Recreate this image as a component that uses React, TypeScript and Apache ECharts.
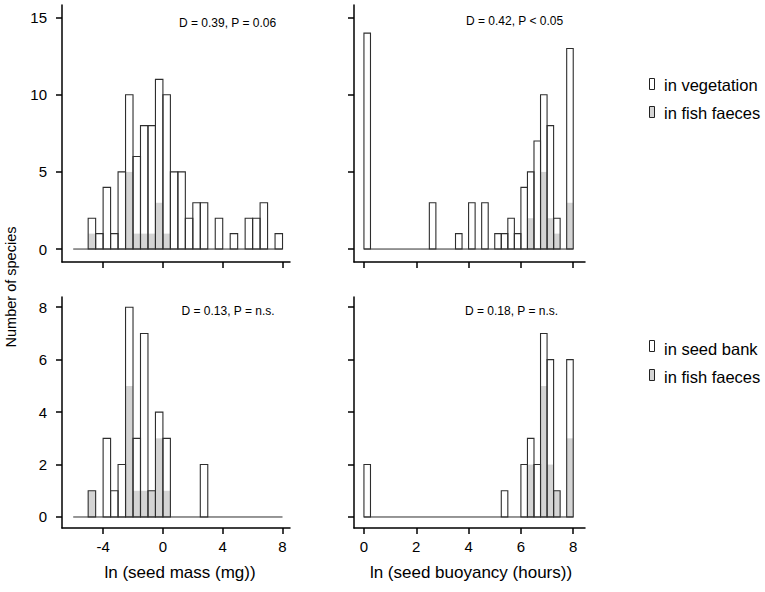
import React, { useEffect, useRef } from "react";
import * as echarts from "echarts";

// ---- data ----
const massBins = [-5, -4.5, -4, -3.5, -3, -2.5, -2, -1.5, -1, -0.5, 0, 0.5, 1, 1.5, 2, 2.5, 3, 3.5, 4, 4.5, 5, 5.5, 6, 6.5, 7, 7.5];
const massBinWidth = 0.5;
const massVegetation = [2, 1, 4, 1, 5, 10, 6, 8, 8, 11, 10, 5, 5, 2, 3, 3, 0, 2, 0, 1, 0, 2, 2, 3, 0, 1];
const massFaecesTop = [1, 0, 0, 0, 0, 5, 1, 1, 1, 3, 1, 0, 0, 0, 0, 0, 0, 0, 0, 0, 0, 0, 0, 0, 0, 0];
const massSeedBank = [1, 0, 3, 1, 2, 8, 3, 7, 1, 4, 3, 0, 0, 0, 0, 2, 0, 0, 0, 0, 0, 0, 0, 0, 0, 0];
const massFaecesBottom = [1, 0, 0, 0, 0, 5, 1, 1, 1, 3, 1, 0, 0, 0, 0, 0, 0, 0, 0, 0, 0, 0, 0, 0, 0, 0];

const buoyBins = [0, 0.25, 0.5, 0.75, 1, 1.25, 1.5, 1.75, 2, 2.25, 2.5, 2.75, 3, 3.25, 3.5, 3.75, 4, 4.25, 4.5, 4.75, 5, 5.25, 5.5, 5.75, 6, 6.25, 6.5, 6.75, 7, 7.25, 7.5, 7.75];
const buoyBinWidth = 0.25;
const buoyVegetation = [14, 0, 0, 0, 0, 0, 0, 0, 0, 0, 3, 0, 0, 0, 1, 0, 3, 0, 3, 0, 1, 1, 2, 1, 4, 5, 7, 10, 8, 2, 0, 13];
const buoyFaecesTop = [0, 0, 0, 0, 0, 0, 0, 0, 0, 0, 0, 0, 0, 0, 0, 0, 0, 0, 0, 0, 0, 0, 0, 0, 0, 2, 0, 5, 2, 1, 0, 3];
const buoySeedBank = [2, 0, 0, 0, 0, 0, 0, 0, 0, 0, 0, 0, 0, 0, 0, 0, 0, 0, 0, 0, 0, 1, 0, 0, 2, 3, 2, 7, 6, 1, 0, 6];
const buoyFaecesBottom = [0, 0, 0, 0, 0, 0, 0, 0, 0, 0, 0, 0, 0, 0, 0, 0, 0, 0, 0, 0, 0, 0, 0, 0, 0, 2, 0, 5, 2, 1, 0, 3];

const massBaseline = [-6, 8];
const buoyBaseline = [0, 8];

const massTicks = [-4, 0, 4, 8];
const buoyTicks = [0, 2, 4, 6, 8];
const topCountTicks = [0, 5, 10, 15];
const bottomCountTicks = [0, 2, 4, 6, 8];

const statsLabels = ["D = 0.39, P = 0.06", "D = 0.42, P < 0.05", "D = 0.13, P = n.s.", "D = 0.18, P = n.s."];
const xTitles = ["ln (seed mass (mg))", "ln (seed buoyancy (hours))"];
const yTitle = "Number of species";
const legendTop = ["in vegetation", "in fish faeces"];
const legendBottom = ["in seed bank", "in fish faeces"];

// ---- style ----
const FONT = "'Liberation Sans', Arial, Helvetica, sans-serif";
const GRAY = "#d4d4d4";
const OUTLINE = "#2e2e2e";

function histSeries(idx: number, bins: number[], counts: number[], width: number, kind: "outline" | "fill", name: string) {
  return {
    type: "custom",
    name,
    xAxisIndex: idx,
    yAxisIndex: idx,
    z: kind === "fill" ? 2 : 3,
    data: bins.map((b, i) => [b, counts[i]]),
    renderItem: (params: any, api: any) => {
      const x0 = api.value(0);
      const h = api.value(1);
      if (!h) return null;
      const p0 = api.coord([x0, 0]);
      const p1 = api.coord([x0 + width, h]);
      return {
        type: "rect",
        shape: { x: p0[0], y: p1[1], width: p1[0] - p0[0], height: p0[1] - p1[1] },
        style:
          kind === "fill"
            ? { fill: GRAY, stroke: null }
            : { fill: "none", stroke: OUTLINE, lineWidth: 1.1 },
      };
    },
  };
}

function baselineSeries(idx: number, range: number[]) {
  return {
    type: "line",
    xAxisIndex: idx,
    yAxisIndex: idx,
    z: 3,
    symbol: "none",
    silent: true,
    lineStyle: { color: OUTLINE, width: 1 },
    data: [
      [range[0], 0],
      [range[1], 0],
    ],
  };
}

function xAxis(idx: number, min: number, max: number, ticks: number[], showLabels: boolean) {
  return {
    type: "value",
    gridIndex: idx,
    min,
    max,
    splitLine: { show: false },
    axisLine: { show: true, onZero: false, lineStyle: { color: "#000", width: 1.5 } },
    axisTick: { show: true, length: 6, customValues: ticks, lineStyle: { color: "#000", width: 1.5 } },
    axisLabel: {
      show: showLabels,
      customValues: ticks,
      margin: 11,
      color: "#000",
      fontSize: 15,
      fontFamily: FONT,
    },
  };
}

function yAxis(idx: number, min: number, max: number, ticks: number[], showLabels: boolean) {
  return {
    type: "value",
    gridIndex: idx,
    min,
    max,
    splitLine: { show: false },
    axisLine: { show: true, onZero: false, lineStyle: { color: "#000", width: 1.5 } },
    axisTick: { show: true, length: 6, customValues: ticks, lineStyle: { color: "#000", width: 1.5 } },
    axisLabel: {
      show: showLabels,
      customValues: ticks,
      margin: 15,
      color: "#000",
      fontSize: 15,
      fontFamily: FONT,
    },
  };
}

function textEl(text: string, x: number, y: number, size: number, align = "left", rotation = 0) {
  return {
    type: "text",
    x,
    y,
    rotation,
    style: { text, fill: "#000", font: `${size}px ${FONT}`, align, verticalAlign: "middle" },
  };
}

function legendBox(x: number, y: number, fill: string) {
  return {
    type: "rect",
    shape: { x, y, width: 5, height: 11 },
    style: { fill, stroke: "#222", lineWidth: 1 },
  };
}

export default function App() {
  const ref = useRef<HTMLDivElement>(null);

  useEffect(() => {
    if (!ref.current) return;
    const chart = echarts.init(ref.current, undefined, { renderer: "svg" });
    const option: any = {
      animation: false,
      backgroundColor: "#fff",
      grid: [
        { left: 62, top: 5, width: 228, height: 257 },
        { left: 354, top: 5, width: 231, height: 257 },
        { left: 62, top: 297, width: 228, height: 231 },
        { left: 354, top: 297, width: 231, height: 231 },
      ],
      xAxis: [
        xAxis(0, -6.75, 8.5, massTicks, false),
        xAxis(1, -0.38, 8.45, buoyTicks, false),
        xAxis(2, -6.75, 8.5, massTicks, true),
        xAxis(3, -0.38, 8.45, buoyTicks, true),
      ],
      yAxis: [
        yAxis(0, -0.84, 15.82, topCountTicks, true),
        yAxis(1, -0.84, 15.82, topCountTicks, false),
        yAxis(2, -0.42, 8.39, bottomCountTicks, true),
        yAxis(3, -0.42, 8.39, bottomCountTicks, false),
      ],
      series: [
        baselineSeries(0, massBaseline),
        histSeries(0, massBins, massFaecesTop, massBinWidth, "fill", legendTop[1]),
        histSeries(0, massBins, massVegetation, massBinWidth, "outline", legendTop[0]),
        baselineSeries(1, buoyBaseline),
        histSeries(1, buoyBins, buoyFaecesTop, buoyBinWidth, "fill", legendTop[1]),
        histSeries(1, buoyBins, buoyVegetation, buoyBinWidth, "outline", legendTop[0]),
        baselineSeries(2, massBaseline),
        histSeries(2, massBins, massFaecesBottom, massBinWidth, "fill", legendBottom[1]),
        histSeries(2, massBins, massSeedBank, massBinWidth, "outline", legendBottom[0]),
        baselineSeries(3, buoyBaseline),
        histSeries(3, buoyBins, buoyFaecesBottom, buoyBinWidth, "fill", legendBottom[1]),
        histSeries(3, buoyBins, buoySeedBank, buoyBinWidth, "outline", legendBottom[0]),
      ],
      graphic: [
        textEl(statsLabels[0], 179, 22.5, 12),
        textEl(statsLabels[1], 466, 20.5, 12),
        textEl(statsLabels[2], 181.5, 311, 12),
        textEl(statsLabels[3], 465, 311, 12),
        textEl(xTitles[0], 180, 572, 17, "center"),
        textEl(xTitles[1], 471, 572, 17, "center"),
        textEl(yTitle, 11, 287, 14.5, "center", Math.PI / 2),
        legendBox(649.5, 78.5, "#fff"),
        textEl(legendTop[0], 664, 85, 16.5),
        legendBox(649.5, 106.5, GRAY),
        textEl(legendTop[1], 664, 113, 16.5),
        legendBox(649.5, 340.5, "#fff"),
        textEl(legendBottom[0], 664, 348.5, 16.5),
        legendBox(649.5, 369.5, GRAY),
        textEl(legendBottom[1], 664, 376.5, 16.5),
      ],
    };
    chart.setOption(option);
    return () => chart.dispose();
  }, []);

  return (
    <div
      ref={ref}
      style={{ position: "fixed", left: 0, top: 0, width: 765, height: 592, background: "#fff" }}
    />
  );
}
